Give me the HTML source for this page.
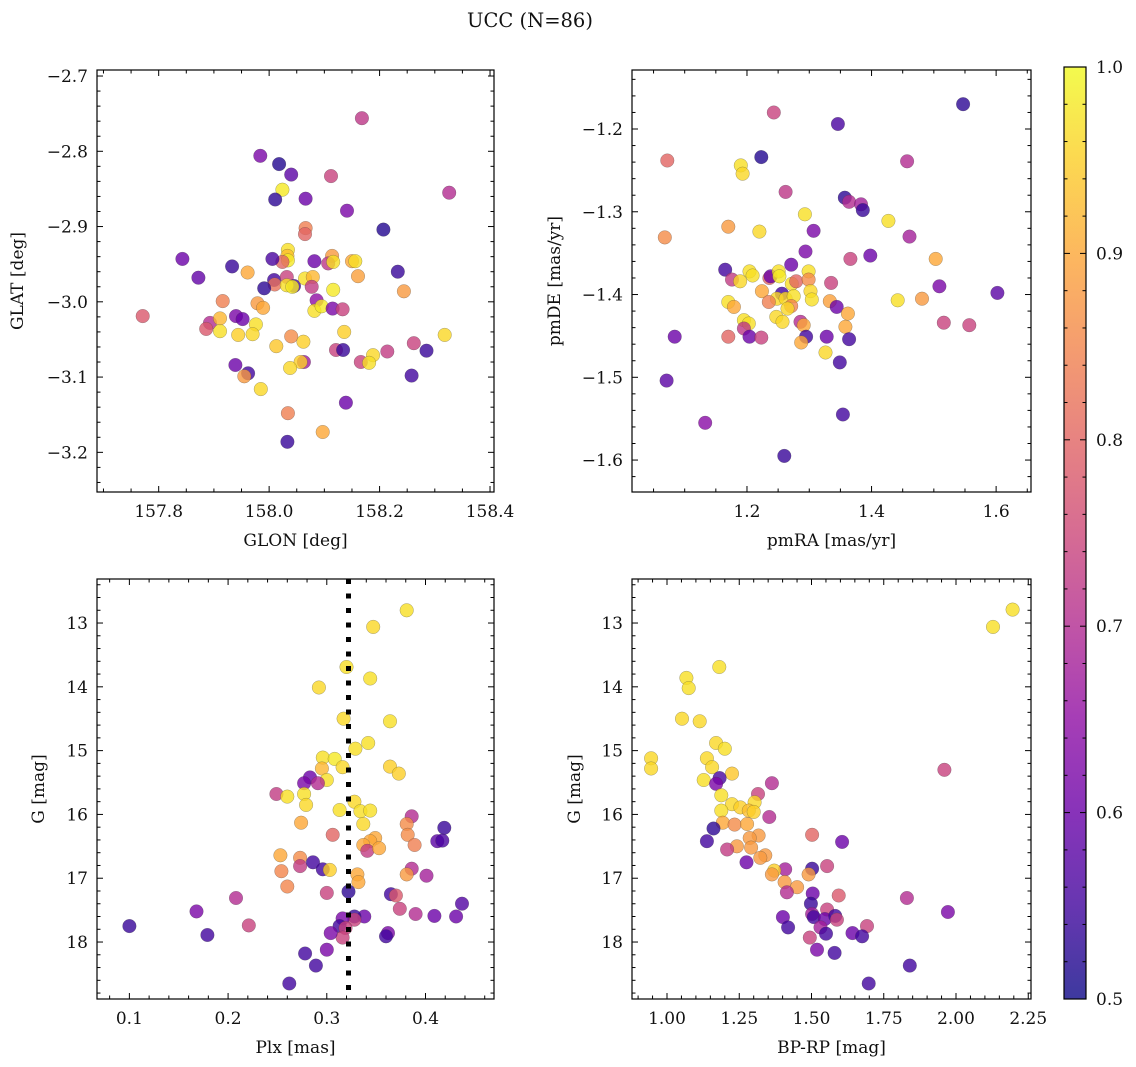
<!DOCTYPE html>
<html><head><meta charset="utf-8"><title>UCC (N=86)</title>
<style>
html,body{margin:0;padding:0;background:#fff;}
svg{display:block;font-family:"DejaVu Serif","Liberation Serif",serif;}
</style></head>
<body>
<svg id="chart" width="1136" height="1067" viewBox="0 0 1136 1067" xmlns="http://www.w3.org/2000/svg">
<text x="530" y="27" font-size="19.5" text-anchor="middle" fill="#111">UCC (N=86)</text>
<defs>
<linearGradient id="plasmaGrad" x1="0" y1="1" x2="0" y2="0">
<stop offset="0" stop-color="#0d0887"/><stop offset="0.1" stop-color="#41049d"/><stop offset="0.2" stop-color="#6a00a8"/><stop offset="0.3" stop-color="#8f0da4"/><stop offset="0.4" stop-color="#b12a90"/><stop offset="0.5" stop-color="#cc4778"/><stop offset="0.6" stop-color="#e16462"/><stop offset="0.7" stop-color="#f2844b"/><stop offset="0.8" stop-color="#fca636"/><stop offset="0.9" stop-color="#fcce25"/><stop offset="1" stop-color="#f0f921"/>
</linearGradient>
</defs>
</svg>
<script>
// ---------- Panel 1 data: GLON / GLAT ----------
const p1Glon = [158.168,157.984,158.018,158.040,158.112,158.326,158.024,158.011,158.066,158.141,158.207,158.066,158.065,158.034,158.033,158.034,158.024,158.006,158.082,158.114,158.107,158.116,158.150,158.156,157.843,157.933,157.961,157.872,158.233,158.161,158.009,158.010,158.032,158.045,158.032,158.042,158.065,158.079,158.077,157.991,158.116,158.244,157.916,157.979,157.989,158.086,158.082,158.095,158.115,158.133,157.771,157.893,157.886,157.911,157.911,157.940,157.952,157.976,157.970,157.944,158.136,158.318,158.013,158.040,158.062,158.121,158.134,158.214,158.262,158.285,158.166,158.188,158.181,158.063,158.057,158.038,157.939,157.962,157.955,157.985,158.258,158.139,158.034,158.097,158.033];
const p1Glat = [-2.756,-2.806,-2.817,-2.831,-2.833,-2.855,-2.851,-2.864,-2.863,-2.879,-2.904,-2.902,-2.910,-2.931,-2.939,-2.945,-2.947,-2.943,-2.946,-2.939,-2.949,-2.947,-2.946,-2.946,-2.943,-2.953,-2.961,-2.968,-2.960,-2.966,-2.971,-2.977,-2.967,-2.979,-2.978,-2.980,-2.969,-2.967,-2.980,-2.982,-2.984,-2.986,-2.999,-3.002,-3.008,-2.998,-3.012,-3.006,-3.009,-3.010,-3.019,-3.028,-3.036,-3.022,-3.039,-3.019,-3.023,-3.030,-3.043,-3.044,-3.040,-3.044,-3.059,-3.046,-3.053,-3.064,-3.064,-3.066,-3.055,-3.065,-3.080,-3.071,-3.081,-3.080,-3.080,-3.088,-3.084,-3.095,-3.099,-3.116,-3.098,-3.134,-3.148,-3.173,-3.186];
const p1Prob = [0.72,0.62,0.52,0.58,0.74,0.70,0.98,0.53,0.60,0.62,0.52,0.84,0.80,0.97,0.93,0.98,0.80,0.56,0.60,0.88,0.72,0.97,0.90,0.97,0.60,0.54,0.90,0.59,0.54,0.89,0.55,0.82,0.74,0.55,0.97,0.98,0.97,0.92,0.73,0.53,0.98,0.88,0.84,0.88,0.90,0.65,0.97,0.98,0.62,0.74,0.78,0.70,0.78,0.92,0.97,0.62,0.60,0.97,0.96,0.95,0.95,0.96,0.94,0.86,0.95,0.74,0.54,0.73,0.74,0.54,0.74,0.96,0.97,0.67,0.95,0.96,0.60,0.55,0.88,0.96,0.55,0.60,0.84,0.90,0.54];

// ---------- Panel 2 data: pmRA / pmDE ----------
const p2PmRA = [1.547,1.243,1.346,1.223,1.072,1.457,1.190,1.193,1.262,1.357,1.364,1.383,1.386,1.293,1.427,1.170,1.220,1.307,1.068,1.461,1.294,1.398,1.366,1.503,1.165,1.271,1.176,1.189,1.204,1.209,1.236,1.238,1.251,1.252,1.272,1.279,1.299,1.299,1.335,1.224,1.256,1.248,1.262,1.275,1.302,1.304,1.235,1.170,1.179,1.271,1.265,1.333,1.344,1.509,1.602,1.442,1.481,1.362,1.247,1.257,1.358,1.516,1.557,1.195,1.203,1.195,1.286,1.291,1.084,1.170,1.204,1.223,1.295,1.287,1.328,1.364,1.326,1.349,1.071,1.354,1.133,1.260];
const p2PmDE = [-1.170,-1.180,-1.194,-1.234,-1.238,-1.239,-1.244,-1.254,-1.276,-1.283,-1.288,-1.291,-1.298,-1.303,-1.311,-1.318,-1.324,-1.323,-1.331,-1.330,-1.348,-1.353,-1.357,-1.357,-1.370,-1.364,-1.382,-1.384,-1.372,-1.377,-1.380,-1.378,-1.372,-1.378,-1.387,-1.384,-1.372,-1.382,-1.386,-1.396,-1.399,-1.405,-1.405,-1.402,-1.396,-1.406,-1.409,-1.409,-1.415,-1.414,-1.417,-1.408,-1.415,-1.390,-1.398,-1.407,-1.405,-1.423,-1.427,-1.433,-1.439,-1.434,-1.437,-1.431,-1.435,-1.441,-1.433,-1.437,-1.451,-1.451,-1.451,-1.452,-1.451,-1.458,-1.451,-1.454,-1.470,-1.482,-1.504,-1.545,-1.555,-1.595];
const p2Prob = [0.53,0.74,0.56,0.52,0.80,0.70,0.97,0.96,0.72,0.53,0.70,0.68,0.54,0.97,0.97,0.88,0.96,0.62,0.86,0.68,0.62,0.60,0.74,0.90,0.55,0.60,0.73,0.96,0.97,0.97,0.80,0.60,0.97,0.98,0.97,0.80,0.97,0.86,0.74,0.90,0.55,0.96,0.96,0.97,0.96,0.97,0.84,0.97,0.90,0.85,0.96,0.89,0.60,0.62,0.58,0.97,0.88,0.90,0.96,0.96,0.90,0.74,0.74,0.97,0.97,0.72,0.70,0.90,0.60,0.80,0.60,0.74,0.55,0.90,0.60,0.55,0.96,0.55,0.58,0.55,0.64,0.54];

// ---------- Panel 3 data: Plx / G ----------
const p3Plx = [0.381,0.347,0.320,0.344,0.292,0.317,0.364,0.342,0.329,0.296,0.308,0.316,0.295,0.364,0.373,0.300,0.283,0.277,0.291,0.249,0.260,0.277,0.279,0.328,0.334,0.344,0.313,0.337,0.386,0.381,0.419,0.382,0.389,0.412,0.417,0.274,0.306,0.349,0.344,0.337,0.341,0.353,0.253,0.273,0.273,0.286,0.296,0.303,0.254,0.260,0.331,0.332,0.386,0.381,0.401,0.300,0.322,0.365,0.370,0.208,0.168,0.374,0.390,0.409,0.431,0.437,0.338,0.328,0.328,0.316,0.313,0.319,0.316,0.221,0.100,0.179,0.304,0.362,0.360,0.300,0.278,0.289,0.262];
const p3G = [12.80,13.06,13.69,13.87,14.01,14.50,14.54,14.88,14.97,15.11,15.13,15.26,15.28,15.25,15.36,15.46,15.42,15.51,15.51,15.68,15.72,15.68,15.85,15.80,15.95,15.94,15.93,16.15,16.03,16.15,16.21,16.32,16.48,16.42,16.41,16.13,16.32,16.37,16.42,16.48,16.57,16.53,16.64,16.68,16.81,16.75,16.86,16.87,16.89,17.13,16.94,17.06,16.85,16.94,16.96,17.23,17.21,17.25,17.27,17.31,17.52,17.48,17.56,17.59,17.60,17.40,17.60,17.60,17.65,17.63,17.75,17.78,17.93,17.74,17.75,17.89,17.86,17.86,17.91,18.12,18.18,18.37,18.65];
const p3Prob = [0.97,0.96,0.97,0.97,0.96,0.96,0.97,0.97,0.97,0.97,0.98,0.96,0.92,0.95,0.95,0.97,0.60,0.62,0.70,0.73,0.97,0.97,0.96,0.96,0.97,0.97,0.97,0.96,0.70,0.86,0.54,0.86,0.84,0.58,0.56,0.90,0.80,0.90,0.90,0.90,0.73,0.90,0.90,0.86,0.73,0.55,0.55,0.95,0.85,0.85,0.90,0.90,0.70,0.88,0.68,0.74,0.53,0.55,0.78,0.70,0.62,0.74,0.70,0.60,0.60,0.57,0.60,0.54,0.74,0.62,0.55,0.74,0.74,0.74,0.54,0.55,0.62,0.62,0.55,0.62,0.55,0.55,0.55];
const p3PlxMedian = 0.322;

// ---------- Panel 4 data: BP-RP / G ----------
const p4Color = [2.196,2.128,1.181,1.067,1.075,1.052,1.113,1.170,1.200,0.945,0.945,1.138,1.156,1.225,1.127,1.182,1.170,1.363,1.960,1.188,1.315,1.225,1.254,1.303,1.188,1.283,1.300,1.354,1.193,1.234,1.277,1.161,1.138,1.502,1.606,1.317,1.286,1.291,1.242,1.208,1.340,1.323,1.275,1.554,1.502,1.409,1.371,1.363,1.490,1.407,1.450,1.415,1.504,1.594,1.498,1.830,1.972,1.401,1.419,1.502,1.508,1.554,1.546,1.582,1.588,1.531,1.550,1.692,1.642,1.675,1.494,1.519,1.580,1.840,1.698];
const p4G = [12.79,13.06,13.69,13.86,14.02,14.50,14.54,14.88,14.97,15.12,15.28,15.12,15.26,15.36,15.46,15.43,15.52,15.51,15.30,15.70,15.68,15.84,15.89,15.81,15.94,15.94,15.96,16.04,16.13,16.16,16.15,16.22,16.42,16.32,16.43,16.33,16.37,16.52,16.50,16.55,16.64,16.68,16.75,16.81,16.85,16.86,16.88,16.94,16.94,17.06,17.14,17.22,17.24,17.27,17.40,17.31,17.53,17.61,17.77,17.56,17.61,17.49,17.64,17.59,17.65,17.77,17.87,17.75,17.86,17.91,17.93,18.12,18.17,18.37,18.65];
const p4Prob = [0.97,0.97,0.97,0.97,0.97,0.96,0.96,0.96,0.97,0.96,0.96,0.96,0.96,0.94,0.97,0.56,0.62,0.70,0.74,0.97,0.74,0.96,0.95,0.96,0.97,0.93,0.95,0.70,0.90,0.86,0.90,0.53,0.55,0.80,0.60,0.88,0.88,0.88,0.88,0.73,0.88,0.88,0.60,0.74,0.54,0.68,0.95,0.88,0.88,0.88,0.88,0.70,0.60,0.78,0.54,0.70,0.62,0.60,0.55,0.68,0.55,0.74,0.60,0.55,0.74,0.68,0.55,0.74,0.60,0.55,0.74,0.62,0.55,0.55,0.55];

// colorbar
const cbTicks = [0.5,0.6,0.7,0.8,0.9,1.0];

const NS = 'http://www.w3.org/2000/svg';
const svg = document.getElementById('chart');
function mk(tag, attrs, parent){
  const e = document.createElementNS(NS, tag);
  for (const k in attrs) e.setAttribute(k, attrs[k]);
  (parent||svg).appendChild(e);
  return e;
}
const stops = [[13,8,135],[65,4,157],[106,0,168],[143,13,164],[177,42,144],[204,71,120],[225,100,98],[242,132,75],[252,166,54],[252,206,37],[240,249,33]];
function plasma(p){
  let t = (p-0.5)/0.5; t = Math.max(0, Math.min(1, t));
  const f = t*10, i = Math.min(9, Math.floor(f)), r = f - i;
  const a = stops[i], b = stops[i+1];
  return 'rgb(' + [0,1,2].map(k => Math.round(a[k] + (b[k]-a[k])*r)).join(',') + ')';
}
function fmt(v, d){ const s = Math.abs(v).toFixed(d); return (v < -1e-9 ? '\u2212' : '') + s; }
const TICKFS = 17, LABFS = 17;

function panel(cfg){
  const g = mk('g', {});
  
  
  const L = cfg.box[0], T = cfg.box[1], R = cfg.box[2], B = cfg.box[3];
  const sx = v => L + (v - cfg.xr[0]) / (cfg.xr[1] - cfg.xr[0]) * (R - L);
  const sy = cfg.invert
    ? (v => T + (v - cfg.yr[0]) / (cfg.yr[1] - cfg.yr[0]) * (B - T))
    : (v => B - (v - cfg.yr[0]) / (cfg.yr[1] - cfg.yr[0]) * (B - T));
  const cid = 'clip-' + cfg.name;
  const cp = mk('clipPath', {id: cid}, g);
  mk('rect', {x: L, y: T, width: R - L, height: B - T}, cp);
  const pts = mk('g', {'clip-path': 'url(#' + cid + ')'}, g);
  
  
  for (let i = 0; i < cfg.xs.length; i++){
    const c = mk('circle', {cx: sx(cfg.xs[i]).toFixed(1), cy: sy(cfg.ys[i]).toFixed(1), r: 6.8, fill: plasma(cfg.ps[i]), 'fill-opacity': 0.8, stroke: 'rgba(60,60,60,0.45)', 'stroke-width': 0.5}, pts);
    
    
  }
  if (cfg.vline !== undefined){
    const vl = mk('line', {x1: sx(cfg.vline), x2: sx(cfg.vline), y1: T, y2: B, stroke: '#000', 'stroke-width': 5, 'stroke-dasharray': '5 9.5'}, pts);
    
    
  }
  const fr = mk('rect', {x: L, y: T, width: R - L, height: B - T, fill: 'none', stroke: '#000', 'stroke-width': 1.2}, g);
  
  
  const tk = mk('g', {stroke: '#000', 'stroke-width': 1}, g);
  
  
  const eps = 1e-9;
  const xStart = Math.ceil(cfg.xr[0] / cfg.xmin - eps) * cfg.xmin;
  for (let v = xStart; v <= cfg.xr[1] + eps; v += cfg.xmin){
    const x = sx(v);
    const major = cfg.xt.some(t => Math.abs(t - v) < cfg.xmin / 3);
    const len = major ? 6 : 3.5;
    mk('line', {x1: x, x2: x, y1: B, y2: B - len}, tk);
    mk('line', {x1: x, x2: x, y1: T, y2: T + len}, tk);
  }
  const ylo = Math.min(cfg.yr[0], cfg.yr[1]), yhi = Math.max(cfg.yr[0], cfg.yr[1]);
  const yStart = Math.ceil(ylo / cfg.ymin - eps) * cfg.ymin;
  for (let v = yStart; v <= yhi + eps; v += cfg.ymin){
    const y = sy(v);
    const major = cfg.yt.some(t => Math.abs(t - v) < cfg.ymin / 3);
    const len = major ? 6 : 3.5;
    mk('line', {x1: L, x2: L + len, y1: y, y2: y}, tk);
    mk('line', {x1: R, x2: R - len, y1: y, y2: y}, tk);
  }
  cfg.xt.forEach(t => {
    const tx = mk('text', {x: sx(t), y: B + 25, 'font-size': TICKFS, 'text-anchor': 'middle', fill: '#111'}, g);
    tx.textContent = fmt(t, cfg.xd);
    
    
  });
  cfg.yt.forEach(t => {
    const tx = mk('text', {x: L - 9, y: sy(t) + 6, 'font-size': TICKFS, 'text-anchor': 'end', fill: '#111'}, g);
    tx.textContent = fmt(t, cfg.yd);
    
    
  });
  const xl = mk('text', {x: (L + R) / 2, y: B + 54, 'font-size': LABFS, 'text-anchor': 'middle', fill: '#111'}, g);
  xl.textContent = cfg.xlabel;
  
  
  const yl = mk('text', {x: 0, y: 0, 'font-size': LABFS, 'text-anchor': 'middle', fill: '#111', transform: 'translate(' + cfg.ylx + ',' + ((T + B) / 2) + ') rotate(-90)'}, g);
  yl.textContent = cfg.ylabel;
  
  
}

panel({name: 'glon-glat-panel', box: [97, 70, 494, 492], xr: [157.6883, 158.4072], yr: [-3.2527, -2.692],
  xs: p1Glon, ys: p1Glat, ps: p1Prob, xt: [157.8, 158.0, 158.2, 158.4], yt: [-2.7, -2.8, -2.9, -3.0, -3.1, -3.2],
  xmin: 0.05, ymin: 0.02, xd: 1, yd: 1, xlabel: 'GLON [deg]', ylabel: 'GLAT [deg]', ylx: 23});
panel({name: 'pm-panel', box: [632, 70, 1031, 492], xr: [1.0154, 1.656], yr: [-1.6386, -1.1287],
  xs: p2PmRA, ys: p2PmDE, ps: p2Prob, xt: [1.2, 1.4, 1.6], yt: [-1.2, -1.3, -1.4, -1.5, -1.6],
  xmin: 0.05, ymin: 0.02, xd: 1, yd: 1, xlabel: 'pmRA [mas/yr]', ylabel: 'pmDE [mas/yr]', ylx: 560});
panel({name: 'plx-g-panel', box: [97, 579, 494, 999], xr: [0.0672, 0.4694], yr: [12.31, 18.893], invert: true,
  xs: p3Plx, ys: p3G, ps: p3Prob, xt: [0.1, 0.2, 0.3, 0.4], yt: [13, 14, 15, 16, 17, 18], vline: p3PlxMedian,
  xmin: 0.02, ymin: 0.2, xd: 1, yd: 0, xlabel: 'Plx [mas]', ylabel: 'G [mag]', ylx: 44});
panel({name: 'cmd-panel', box: [632, 579, 1031, 999], xr: [0.8789, 2.2595], yr: [12.31, 18.893], invert: true,
  xs: p4Color, ys: p4G, ps: p4Prob, xt: [1.0, 1.25, 1.5, 1.75, 2.0, 2.25], yt: [13, 14, 15, 16, 17, 18],
  xmin: 0.05, ymin: 0.2, xd: 2, yd: 0, xlabel: 'BP-RP [mag]', ylabel: 'G [mag]', ylx: 580});

(function(){
  const g = mk('g', {});
  
  
  const L = 1064, R = 1086, T = 67, B = 999;
  const sy = v => B - (v - 0.5) / 0.5 * (B - T);
  mk('rect', {x: L, y: T, width: R - L, height: B - T, fill: 'url(#plasmaGrad)', 'fill-opacity': 0.8}, g);
  mk('rect', {x: L, y: T, width: R - L, height: B - T, fill: 'none', stroke: '#000', 'stroke-width': 1.2}, g);
  for (let v = 0.5; v <= 1.0001; v += 0.02){
    const y = sy(v);
    const major = cbTicks.some(t => Math.abs(t - v) < 0.005);
    const len = major ? 6 : 3.5;
    mk('line', {x1: R, x2: R - len, y1: y, y2: y, stroke: '#000', 'stroke-width': 1}, g);
    mk('line', {x1: L, x2: L + len, y1: y, y2: y, stroke: '#000', 'stroke-width': 1}, g);
  }
  cbTicks.forEach(t => {
    const tx = mk('text', {x: R + 10, y: sy(t) + 6, 'font-size': TICKFS, fill: '#111'}, g);
    tx.textContent = t.toFixed(1);
    
    
  });
})();
</script>
</body></html>
